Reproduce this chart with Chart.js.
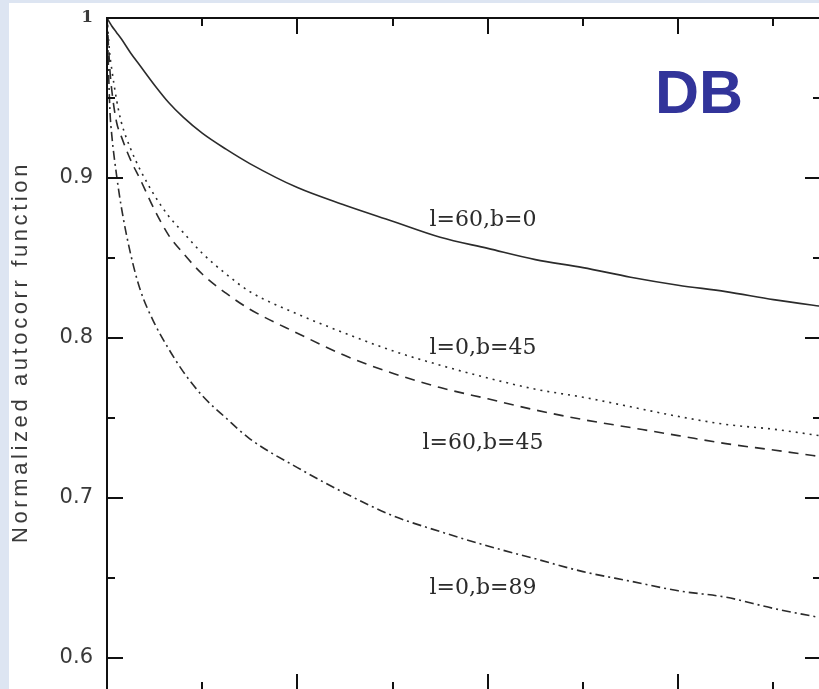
<!DOCTYPE html>
<html>
<head>
<meta charset="utf-8">
<script src="https://cdn.jsdelivr.net/npm/chart.js@4.4.1/dist/chart.umd.min.js"></script>
<style>
    html, body { margin: 0; padding: 0; overflow: hidden; background: #dde5f2; }
    body { width: 819px; height: 689px; position: relative; }
    #wrap { position: absolute; left: 9px; top: 3px; width: 830px; height: 700px; background: #fff; }
</style>
</head>
<body>
<div id="wrap"><canvas id="acf"></canvas></div>
<script>
// Data
const xValues = [0, 0.03, 0.05, 0.1, 0.15, 0.25, 0.35, 0.5, 0.65, 0.8, 1.0, 1.25, 1.5, 2.0, 2.5, 3.0, 3.5, 4.0, 4.5, 5.0, 5.5, 6.0, 6.5, 7.0, 7.6];

const l60b0  = [1, 0.997, 0.995, 0.991, 0.987, 0.978, 0.970, 0.958, 0.947, 0.938, 0.928, 0.918, 0.909, 0.894, 0.883, 0.873, 0.863, 0.856, 0.849, 0.844, 0.838, 0.833, 0.829, 0.824, 0.819];
const l0b45  = [1, 0.977, 0.968, 0.949, 0.935, 0.918, 0.905, 0.889, 0.876, 0.866, 0.853, 0.840, 0.829, 0.815, 0.803, 0.792, 0.783, 0.775, 0.768, 0.763, 0.757, 0.751, 0.746, 0.743, 0.738];
const l60b45 = [1, 0.968, 0.955, 0.935, 0.926, 0.911, 0.899, 0.880, 0.864, 0.853, 0.840, 0.828, 0.818, 0.803, 0.789, 0.778, 0.769, 0.762, 0.755, 0.749, 0.744, 0.739, 0.734, 0.730, 0.725];
const l0b89  = [1, 0.943, 0.927, 0.902, 0.882, 0.852, 0.830, 0.809, 0.793, 0.779, 0.764, 0.750, 0.737, 0.719, 0.703, 0.689, 0.679, 0.670, 0.662, 0.654, 0.648, 0.642, 0.638, 0.631, 0.624];

const yLabelValues = [0.6, 0.7, 0.8, 0.9, 1];
const yMinorValues = [0.6, 0.65, 0.7, 0.75, 0.8, 0.85, 0.9, 0.95];
const xTickValues = [1, 2, 3, 4, 5, 6, 7];

// curve labels
const curveNames = ['l=60,b=0', 'l=0,b=45', 'l=60,b=45', 'l=0,b=89'];
const curveLabelX = [3.95, 3.95, 3.95, 3.95];
const curveLabelY = [0.870, 0.790, 0.7306, 0.640];

const lineColor = '#2b2b2b';

function pts(ys) {
    return xValues.map((x, i) => ({ x: x, y: ys[i] }));
}

function makeSet(label, ys, dash) {
    return {
        label: label,
        data: pts(ys),
        borderColor: lineColor,
        borderWidth: 1.6,
        borderDash: dash,
        pointRadius: 0,
        cubicInterpolationMode: 'monotone',
        fill: false
    };
}

// Frame, inward ticks and texts
const decor = {
    id: 'decor',
    afterDraw(chart) {
        const ctx = chart.ctx;
        const area = chart.chartArea;
        const xs = chart.scales.x;
        const ys = chart.scales.y;

        ctx.save();
        ctx.strokeStyle = '#111';
        ctx.lineWidth = 2;
        ctx.strokeRect(area.left, area.top, area.right - area.left, area.bottom - area.top);

        ctx.beginPath();
        yMinorValues.forEach(v => {
            const y = Math.round(ys.getPixelForValue(v));
            const major = Math.abs(v * 10 - Math.round(v * 10)) < 1e-6;
            const len = major ? 16 : 8;
            ctx.moveTo(area.left, y); ctx.lineTo(area.left + len, y);
            ctx.moveTo(area.right, y); ctx.lineTo(area.right - len, y);
        });
        xTickValues.forEach(v => {
            const x = Math.round(xs.getPixelForValue(v));
            const len = v % 2 === 0 ? 16 : 8;
            ctx.moveTo(x, area.top); ctx.lineTo(x, area.top + len);
            ctx.moveTo(x, area.bottom); ctx.lineTo(x, area.bottom - len);
        });
        ctx.stroke();

        // curve labels
        ctx.fillStyle = '#2b2b2b';
        ctx.font = '22px "DejaVu Serif"';
        ctx.textAlign = 'center';
        ctx.textBaseline = 'alphabetic';
        curveNames.forEach((t, i) => {
            ctx.fillText(t, xs.getPixelForValue(curveLabelX[i]), ys.getPixelForValue(curveLabelY[i]));
        });

        // DB stamp
        ctx.fillStyle = '#32349a';
        ctx.font = 'bold 61px "Liberation Sans"';
        ctx.textAlign = 'left';
        ctx.fillText('DB', 646, 110);

        // y title
        ctx.fillStyle = '#3a3a3a';
        ctx.font = '22px "Liberation Sans"';
        ctx.letterSpacing = '3.6px';
        ctx.translate(12, 349);
        ctx.rotate(-Math.PI / 2);
        ctx.textAlign = 'center';
        ctx.textBaseline = 'middle';
        ctx.fillText('Normalized autocorr function', 0, 0);
        ctx.restore();
    }
};

const chart = new Chart(document.getElementById('acf'), {
    type: 'line',
    data: {
        datasets: [
            makeSet('l=60,b=0', l60b0, []),
            makeSet('l=0,b=45', l0b45, [2, 5]),
            makeSet('l=60,b=45', l60b45, [10, 7]),
            makeSet('l=0,b=89', l0b89, [9, 4, 2, 4])
        ]
    },
    options: {
        responsive: true,
        maintainAspectRatio: false,
        animation: false,
        events: [],
        layout: { padding: { left: 0, top: 15, right: 18, bottom: 13 } },
        plugins: { legend: { display: false }, tooltip: { enabled: false } },
        scales: {
            x: { type: 'linear', min: 0, max: 7.5, display: false },
            y: {
                type: 'linear',
                min: 0.58,
                max: 1,
                grid: { display: false, drawTicks: false },
                border: { display: false },
                afterBuildTicks: (scale) => { scale.ticks = yLabelValues.map(v => ({ value: v })); },
                afterFit: (scale) => {
                    scale.width = 98;
                    scale.paddingTop = 0;
                    scale.paddingBottom = 0;
                },
                ticks: {
                    padding: 14,
                    color: '#3a3a3a',
                    font: (c) => (c.tick && c.tick.value === 1)
                        ? { family: 'DejaVu Serif', size: 17, weight: 'bold' }
                        : { family: 'DejaVu Sans', size: 21 },
                    callback: (v) => v === 1 ? '1' : Number(v).toFixed(1)
                }
            }
        }
    },
    plugins: [decor]
});
</script>
</body>
</html>
